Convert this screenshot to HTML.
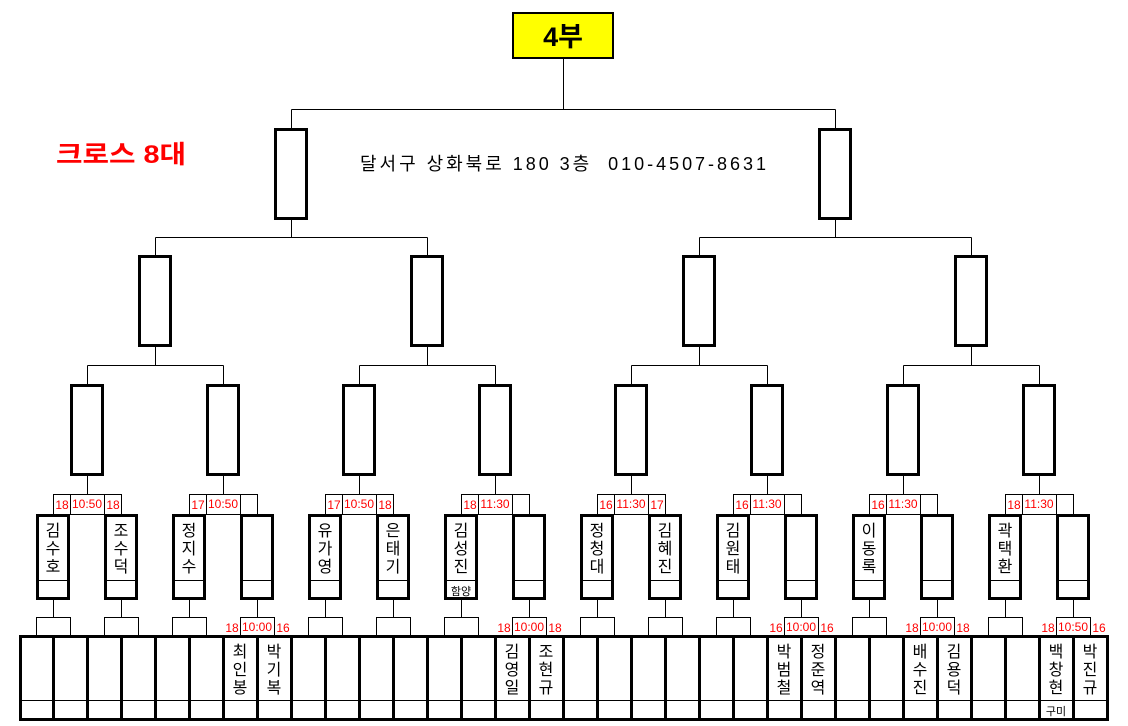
<!DOCTYPE html>
<html><head><meta charset="utf-8"><style>
html,body{margin:0;padding:0;background:#fff;}
svg{display:block;font-family:"Liberation Sans","Noto Sans CJK KR",sans-serif;}
.t{stroke:#000;stroke-width:1;fill:none}
.k{stroke:#000;stroke-width:3;fill:none}
.r{fill:#f00;font-size:12px;text-anchor:middle}
.n{fill:#000;font-size:16px;text-anchor:middle}
.s{fill:#000;font-size:11px;text-anchor:middle}
</style></head><body>
<svg width="1128" height="726" viewBox="0 0 1128 726" xmlns="http://www.w3.org/2000/svg">
<!-- title -->
<rect x="513" y="13" width="100" height="45" fill="#ff0" stroke="#000" stroke-width="2"/>
<text x="563" y="46" font-size="27" font-weight="bold" text-anchor="middle">4부</text>
<text x="56" y="163" font-size="25" font-weight="bold" fill="#f00" textLength="130" lengthAdjust="spacingAndGlyphs">크로스 8대</text>
<text x="360" y="170" font-size="18" textLength="406" lengthAdjust="spacing" style="white-space:pre">달서구 상화북로 180 3층  010-4507-8631</text>
<!-- connectors -->
<path class="t" d="M563.5 58V109.5M291.5 109.5H835.5M291.5 109.5V128M835.5 109.5V128
M291.5 220V237.5M835.5 220V237.5M155.5 237.5H427.5M699.5 237.5H971.5
M155.5 237.5V255M427.5 237.5V255M699.5 237.5V255M971.5 237.5V255
M155.5 347V365.5M427.5 347V365.5M699.5 347V365.5M971.5 347V365.5
M87.5 365.5H223.5M359.5 365.5H495.5M631.5 365.5H767.5M903.5 365.5H1039.5
M87.5 365.5V384M223.5 365.5V384M359.5 365.5V384M495.5 365.5V384M631.5 365.5V384M767.5 365.5V384M903.5 365.5V384M1039.5 365.5V384
M87.5 476V494M223.5 476V494M359.5 476V494M495.5 476V494M631.5 476V494M767.5 476V494M903.5 476V494M1039.5 476V494"/>
<!-- level 4 & 3 boxes -->
<rect class="k" x="275.5" y="129.5" width="31" height="89"/>
<rect class="k" x="819.5" y="129.5" width="31" height="89"/>
<rect class="k" x="139.5" y="256.5" width="31" height="89"/>
<rect class="k" x="411.5" y="256.5" width="31" height="89"/>
<rect class="k" x="683.5" y="256.5" width="31" height="89"/>
<rect class="k" x="955.5" y="256.5" width="31" height="89"/>
<!-- level 2 boxes -->
<g class="k">
<rect x="71.5" y="385.5" width="31" height="89"/><rect x="207.5" y="385.5" width="31" height="89"/>
<rect x="343.5" y="385.5" width="31" height="89"/><rect x="479.5" y="385.5" width="31" height="89"/>
<rect x="615.5" y="385.5" width="31" height="89"/><rect x="751.5" y="385.5" width="31" height="89"/>
<rect x="887.5" y="385.5" width="31" height="89"/><rect x="1023.5" y="385.5" width="31" height="89"/>
</g>
<!-- headers -->
<g class="t">
<rect x="53.5" y="494.5" width="68" height="20"/><path d="M70.5 494.5V514M104.5 494.5V514"/>
<rect x="189.5" y="494.5" width="68" height="20"/><path d="M206.5 494.5V514M240.5 494.5V514"/>
<rect x="325.5" y="494.5" width="68" height="20"/><path d="M342.5 494.5V514M376.5 494.5V514"/>
<rect x="461.5" y="494.5" width="68" height="20"/><path d="M478.5 494.5V514M512.5 494.5V514"/>
<rect x="597.5" y="494.5" width="68" height="20"/><path d="M614.5 494.5V514M648.5 494.5V514"/>
<rect x="733.5" y="494.5" width="68" height="20"/><path d="M750.5 494.5V514M784.5 494.5V514"/>
<rect x="869.5" y="494.5" width="68" height="20"/><path d="M886.5 494.5V514M920.5 494.5V514"/>
<rect x="1005.5" y="494.5" width="68" height="20"/><path d="M1022.5 494.5V514M1056.5 494.5V514"/>
</g>
<g class="r">
<text x="62" y="509">18</text><text x="87" y="508">10:50</text><text x="113" y="509">18</text>
<text x="198" y="509">17</text><text x="223" y="508">10:50</text>
<text x="334" y="509">17</text><text x="359" y="508">10:50</text><text x="385" y="509">18</text>
<text x="470" y="509">18</text><text x="495" y="508">11:30</text>
<text x="606" y="509">16</text><text x="631" y="508">11:30</text><text x="657" y="509">17</text>
<text x="742" y="509">16</text><text x="767" y="508">11:30</text>
<text x="878" y="509">16</text><text x="903" y="508">11:30</text>
<text x="1014" y="509">18</text><text x="1039" y="508">11:30</text>
</g>
<!-- level 1 boxes -->
<g class="k">
<rect x="37.5" y="515.5" width="31" height="83"/><rect x="105.5" y="515.5" width="31" height="83"/>
<rect x="173.5" y="515.5" width="31" height="83"/><rect x="241.5" y="515.5" width="31" height="83"/>
<rect x="309.5" y="515.5" width="31" height="83"/><rect x="377.5" y="515.5" width="31" height="83"/>
<rect x="445.5" y="515.5" width="31" height="83"/><rect x="513.5" y="515.5" width="31" height="83"/>
<rect x="581.5" y="515.5" width="31" height="83"/><rect x="649.5" y="515.5" width="31" height="83"/>
<rect x="717.5" y="515.5" width="31" height="83"/><rect x="785.5" y="515.5" width="31" height="83"/>
<rect x="853.5" y="515.5" width="31" height="83"/><rect x="921.5" y="515.5" width="31" height="83"/>
<rect x="989.5" y="515.5" width="31" height="83"/><rect x="1057.5" y="515.5" width="31" height="83"/>
</g>
<path class="t" d="M37 580.5H69M105 580.5H137M173 580.5H205M241 580.5H273M309 580.5H341M377 580.5H409M445 580.5H477M513 580.5H545M581 580.5H613M649 580.5H681M717 580.5H749M785 580.5H817M853 580.5H885M921 580.5H953M989 580.5H1021M1057 580.5H1089"/>
<g class="n">
<text x="53" y="536">김</text><text x="53" y="554">수</text><text x="53" y="572">호</text>
<text x="121" y="536">조</text><text x="121" y="554">수</text><text x="121" y="572">덕</text>
<text x="189" y="536">정</text><text x="189" y="554">지</text><text x="189" y="572">수</text>
<text x="325" y="536">유</text><text x="325" y="554">가</text><text x="325" y="572">영</text>
<text x="393" y="536">은</text><text x="393" y="554">태</text><text x="393" y="572">기</text>
<text x="461" y="536">김</text><text x="461" y="554">성</text><text x="461" y="572">진</text>
<text x="597" y="536">정</text><text x="597" y="554">청</text><text x="597" y="572">대</text>
<text x="665" y="536">김</text><text x="665" y="554">혜</text><text x="665" y="572">진</text>
<text x="733" y="536">김</text><text x="733" y="554">원</text><text x="733" y="572">태</text>
<text x="869" y="536">이</text><text x="869" y="554">동</text><text x="869" y="572">록</text>
<text x="1005" y="536">곽</text><text x="1005" y="554">택</text><text x="1005" y="572">환</text>
</g>
<text class="s" x="461" y="595">함양</text>
<!-- small boxes below -->
<path class="t" d="M53.5 600V617M121.5 600V617M189.5 600V617M257.5 600V617M325.5 600V617M393.5 600V617M461.5 600V617M529.5 600V617M597.5 600V617M665.5 600V617M733.5 600V617M801.5 600V617M869.5 600V617M937.5 600V617M1005.5 600V617M1073.5 600V617"/>
<g class="t">
<rect x="36.5" y="617.5" width="34" height="18"/><rect x="104.5" y="617.5" width="34" height="18"/>
<rect x="172.5" y="617.5" width="34" height="18"/><rect x="240.5" y="617.5" width="34" height="18"/>
<rect x="308.5" y="617.5" width="34" height="18"/><rect x="376.5" y="617.5" width="34" height="18"/>
<rect x="444.5" y="617.5" width="34" height="18"/><rect x="512.5" y="617.5" width="34" height="18"/>
<rect x="580.5" y="617.5" width="34" height="18"/><rect x="648.5" y="617.5" width="34" height="18"/>
<rect x="716.5" y="617.5" width="34" height="18"/><rect x="784.5" y="617.5" width="34" height="18"/>
<rect x="852.5" y="617.5" width="34" height="18"/><rect x="920.5" y="617.5" width="34" height="18"/>
<rect x="988.5" y="617.5" width="34" height="18"/><rect x="1056.5" y="617.5" width="34" height="18"/>
</g>
<g class="r">
<text x="232" y="632">18</text><text x="257" y="631">10:00</text><text x="283" y="632">16</text>
<text x="504" y="632">18</text><text x="529" y="631">10:00</text><text x="555" y="632">18</text>
<text x="776" y="632">16</text><text x="801" y="631">10:00</text><text x="827" y="632">16</text>
<text x="912" y="632">18</text><text x="937" y="631">10:00</text><text x="963" y="632">18</text>
<text x="1048" y="632">18</text><text x="1073" y="631">10:50</text><text x="1099" y="632">16</text>
</g>
<!-- bottom row -->
<rect class="k" x="20.5" y="636.5" width="1087" height="83"/>
<path class="t" d="M20 700.5H1108"/>
<path class="k" d="M53.5 636V720M87.5 636V720M121.5 636V720M155.5 636V720M189.5 636V720M223.5 636V720M257.5 636V720M291.5 636V720M325.5 636V720M359.5 636V720M393.5 636V720M427.5 636V720M461.5 636V720M495.5 636V720M529.5 636V720M563.5 636V720M597.5 636V720M631.5 636V720M665.5 636V720M699.5 636V720M733.5 636V720M767.5 636V720M801.5 636V720M835.5 636V720M869.5 636V720M903.5 636V720M937.5 636V720M971.5 636V720M1005.5 636V720M1039.5 636V720M1073.5 636V720"/>
<g class="n">
<text x="240" y="657">최</text><text x="240" y="675">인</text><text x="240" y="693">봉</text>
<text x="274" y="657">박</text><text x="274" y="675">기</text><text x="274" y="693">복</text>
<text x="512" y="657">김</text><text x="512" y="675">영</text><text x="512" y="693">일</text>
<text x="546" y="657">조</text><text x="546" y="675">현</text><text x="546" y="693">규</text>
<text x="784" y="657">박</text><text x="784" y="675">범</text><text x="784" y="693">철</text>
<text x="818" y="657">정</text><text x="818" y="675">준</text><text x="818" y="693">역</text>
<text x="920" y="657">배</text><text x="920" y="675">수</text><text x="920" y="693">진</text>
<text x="954" y="657">김</text><text x="954" y="675">용</text><text x="954" y="693">덕</text>
<text x="1056" y="657">백</text><text x="1056" y="675">창</text><text x="1056" y="693">현</text>
<text x="1090" y="657">박</text><text x="1090" y="675">진</text><text x="1090" y="693">규</text>
</g>
<text class="s" x="1056" y="715">구미</text>
</svg>
</body></html>
